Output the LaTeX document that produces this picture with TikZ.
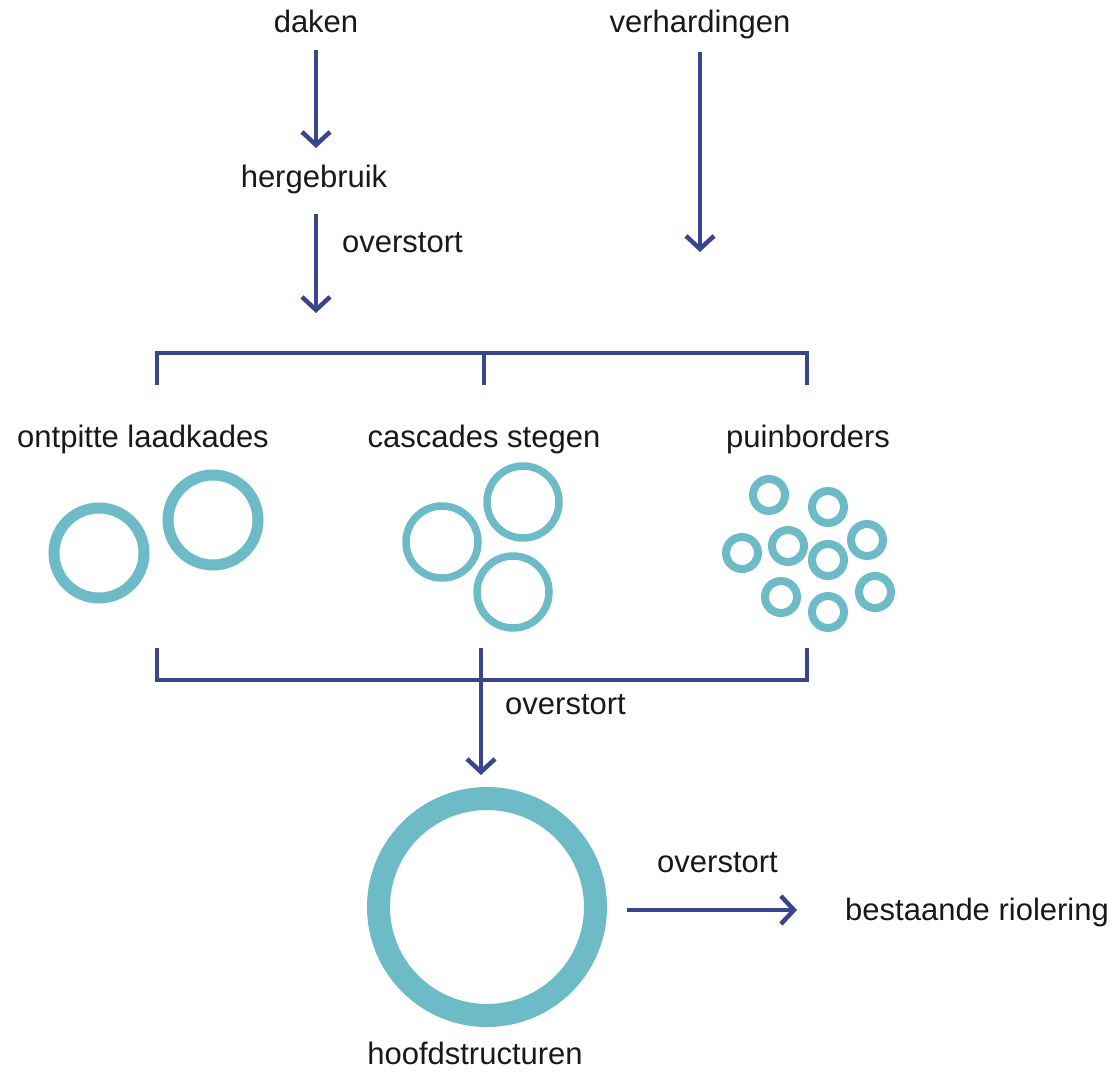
\documentclass[tikz,border=0pt]{standalone}
\usepackage{fontspec}
\setmainfont{Liberation Sans}
\usetikzlibrary{arrows.meta}
\definecolor{flowblue}{RGB}{58,70,140}
\definecolor{ringteal}{RGB}{108,187,199}
\begin{document}
\begin{tikzpicture}[x=1pt,y=-1pt,
  lbl/.style={font=\fontsize{31}{36}\selectfont, inner sep=0pt, anchor=base, text=black!90},
  lblw/.style={lbl, anchor=base west},
  flow/.style={draw=flowblue, line width=3.8pt, -{Straight Barb[length=13pt,width=28pt,line width=4.5pt]}},
  bracket/.style={draw=flowblue, line width=3.8pt},
  ringbig/.style={draw=ringteal, line width=23pt},
  ringmid/.style={draw=ringteal, line width=11pt},
  ringsm/.style={draw=ringteal, line width=7.5pt},
  ringtiny/.style={draw=ringteal, line width=8pt}]
\useasboundingbox (0,0) rectangle (1119,1073);
\fill[white] (0,0) rectangle (1119,1073);

% labels
\node[lbl] (daken) at (316,33) {daken};
\node[lbl] (verh) at (700,33) {verhardingen};
\node[lbl] (herg) at (314,187) {hergebruik};
\node[lblw] (ov1) at (342,252) {overstort};
\node[lbl] (ontp) at (143,447) {ontpitte laadkades};
\node[lbl] (casc) at (484,447) {cascades stegen};
\node[lbl] (puin) at (808,447) {puinborders};
\node[lblw] (ov2) at (505,714) {overstort};
\node[lbl] (hoofd) at (475,1064) {hoofdstructuren};
\node[lblw] (ov3) at (657,872) {overstort};
\node[lblw] (riol) at (845,920) {bestaande riolering};

% coordinates for connector ends
\coordinate (a1s) at (316,50);
\coordinate (a1e) at (316,148);
\coordinate (a2s) at (316,214);
\coordinate (a2e) at (316,313);
\coordinate (a3s) at (700,52);
\coordinate (a3e) at (700,252);
\coordinate (tl) at (157,385);
\coordinate (tlc) at (157,353);
\coordinate (tm) at (484,385);
\coordinate (tmc) at (484,353);
\coordinate (tr) at (807,385);
\coordinate (trc) at (807,353);
\coordinate (bl) at (157,648);
\coordinate (blc) at (157,680);
\coordinate (br) at (807,648);
\coordinate (brc) at (807,680);
\coordinate (bm) at (481,648);
\coordinate (bme) at (481,775);
\coordinate (a5s) at (627,910);
\coordinate (a5e) at (797,910);

% arrows
\draw[flow] (a1s) -- (a1e);
\draw[flow] (a2s) -- (a2e);
\draw[flow] (a3s) -- (a3e);
\draw[bracket] (tl) -- (tlc) -- (trc) -- (tr);
\draw[bracket] (tmc) -- (tm);
\draw[bracket] (bl) -- (blc) -- (brc) -- (br);
\draw[flow] (bm) -- (bme);
\draw[flow] (a5s) -- (a5e);

% ontpitte laadkades
\draw[ringmid] (99,553) circle (45);
\draw[ringmid] (213,520) circle (45);
% cascades stegen
\draw[ringsm] (442,542) circle (36);
\draw[ringsm] (523,502) circle (36);
\draw[ringsm] (513,592) circle (36);
% puinborders
\foreach \p in {(769,495),(828,507),(742,553),(788,546),(828,560),(867,540),(781,597),(828,612),(875,592)}
  \draw[ringtiny] \p circle (16);
% hoofdstructuren
\draw[ringbig] (487,907) circle (108.5);
\end{tikzpicture}
\end{document}
